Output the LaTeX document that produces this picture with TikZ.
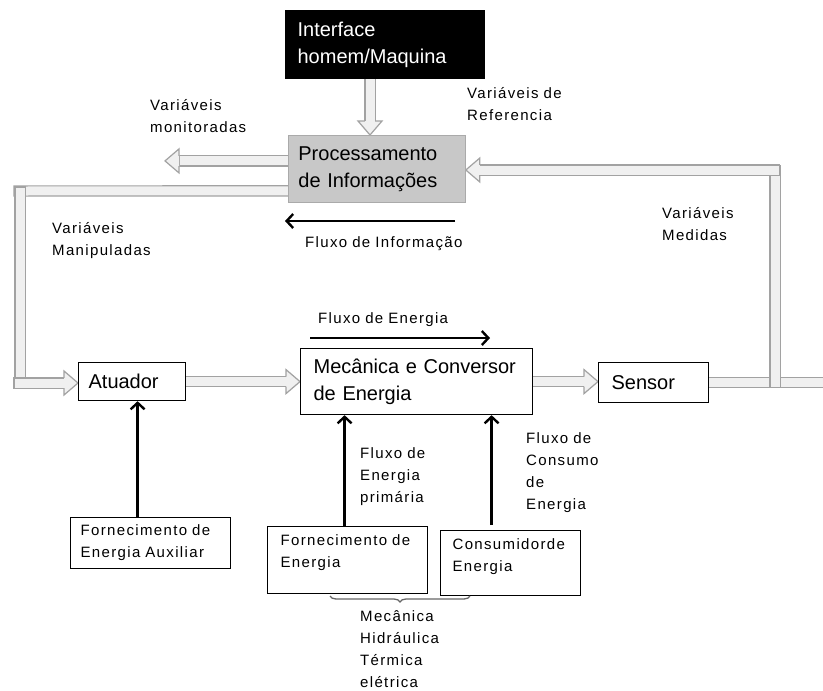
\documentclass[tikz,border=0pt]{standalone}
\usepackage{fontspec}
\setmainfont{Liberation Sans}
\newfontfamily\spacedsans[LetterSpace=9]{Liberation Sans}
\usetikzlibrary{arrows.meta,decorations.pathreplacing}

\newcommand\bigfont{\fontsize{20}{27}\selectfont}
\newcommand\smallfont{\spacedsans\fontsize{15}{22}\selectfont}

\definecolor{pipeedge}{HTML}{A2A2A2}
\definecolor{pipefill}{HTML}{F0F0F0}
\definecolor{procfill}{HTML}{C8C8C8}

\pgfdeclarelayer{paper}
\pgfdeclarelayer{pipes}
\pgfsetlayers{paper,pipes,main}

\tikzset{
  blockbox/.style={draw=black, fill=white, line width=1.2pt, anchor=north west, align=left, inner ysep=0pt},
  bigbox/.style={blockbox, font=\bigfont},
  smallbox/.style={blockbox, font=\smallfont},
  lbl/.style={anchor=base west, inner sep=0pt, align=left, text width=160pt, font=\smallfont},
  flow/.style={line width=2.4pt, -{Straight Barb[length=6.5pt,width=14pt]}},
  pipe/.style={draw=pipeedge, line width=1.2pt, double=pipefill, double distance=9pt,
    line cap=rect, line join=miter},
  pipeend/.style={pipe, shorten >=19pt},
  pipehead/.pic={
    \fill[pipefill] (0,0) -- (-14,-12) -- (-14,12) -- cycle;
    \draw[draw=pipeedge, line width=1.2pt, line join=miter]
      (-14,-5.1) -- (-14,-12) -- (0,0) -- (-14,12) -- (-14,5.1);},
}

\begin{document}
\begin{tikzpicture}[x=1pt, y=-1pt]
\begin{pgfonlayer}{paper}
\fill[white] (0,0) rectangle (823,691);
\end{pgfonlayer}
\useasboundingbox (0,0) rectangle (823,691);

% blocks
\node[bigbox, fill=black, text=white, minimum width=199pt, minimum height=68pt,
      inner xsep=12pt, text width=175pt] (hmi) at (285,10) {Interface\\homem/Maquina};
\node[bigbox, fill=procfill, draw=procfill!85!black, line width=0.8pt, minimum width=177pt,
      minimum height=67pt, inner xsep=10pt, text width=157pt] (proc) at (288,135)
      {Processamento\\de~Informações};
\node[bigbox, minimum width=107pt, minimum height=38pt, inner xsep=10pt, text width=87pt]
      (atuador) at (78,362) {Atuador};
\node[bigbox, minimum width=232pt, minimum height=66pt, inner xsep=13pt, text width=206pt]
      (mec) at (300,348) {Mecânica~e~Conversor\\de~Energia};
\node[bigbox, minimum width=110pt, minimum height=40pt, inner xsep=13pt, text width=84pt]
      (sensor) at (598,362) {Sensor};
\node[smallbox, minimum width=160pt, minimum height=51pt, inner xsep=10pt, text width=140pt]
      (aux) at (70,517) {Fornecimento~de\\Energia~Auxiliar};
\node[smallbox, minimum width=160pt, minimum height=67pt, inner xsep=13pt, text width=134pt,
      text depth=40pt] (forn) at (267,526) {Fornecimento~de\\Energia};
\node[smallbox, minimum width=140pt, minimum height=65pt, inner xsep=12pt, text width=116pt,
      text depth=38pt] (cons) at (440,530) {Consumidorde\\Energia};

% labels
\node[lbl] (lref)  at (467,98)  {Variáveis~de\\Referencia};
\node[lbl] (lmon)  at (150,110) {Variáveis\\monitoradas};
\node[lbl] (lman)  at (52,233)  {Variáveis\\Manipuladas};
\node[lbl] (lmed)  at (662,218) {Variáveis\\Medidas};
\node[lbl] (linfo) at (305,247) {Fluxo~de~Informação};
\node[lbl] (lener) at (318,323) {Fluxo~de~Energia};
\node[lbl] (lprim) at (360,458) {Fluxo~de\\Energia\\primária};
\node[lbl] (lcons) at (526,443) {Fluxo~de\\Consumo\\de\\Energia};
\node[lbl] (ltipo) at (360,621) {Mecânica\\Hidráulica\\Térmica\\elétrica};

% helper points for free ends and bends
\coordinate (refx)    at (370,0);
\coordinate (montip)  at (165,0);
\coordinate (manTop)  at (19,191);
\coordinate (manV1)   at (20,192);
\coordinate (manV2)   at (20,383);
\coordinate (manBot)  at (19,383);
\coordinate (fbV1)    at (775,382);
\coordinate (fbV2)    at (775,171);
\coordinate (fbTop)   at (774,170);
\coordinate (outR)    at (840,0);
\coordinate (fi1)     at (455,221);
\coordinate (fi2)     at (285,221);
\coordinate (fe1)     at (310,338);
\coordinate (fe2)     at (490,338);
\coordinate (procmon) at ([yshift=8pt]proc.west);
\coordinate (procman) at ([yshift=-22pt]proc.west);

% signal pipes, drawn beneath the blocks
\begin{pgfonlayer}{pipes}
\draw[pipeend] (refx |- hmi.south) -- (refx |- proc.north);
\pic[rotate=-90] at (refx |- proc.north) {pipehead};

\draw[pipeend] (procmon) -- (montip |- procmon);
\pic[rotate=180] at (montip |- procmon) {pipehead};

\draw[pipe] (procman) -- (manTop);
\draw[pipe] (manV1) -- (manV2);
\draw[pipeend] (manBot) -- (manBot -| atuador.west);
\pic at (manBot -| atuador.west) {pipehead};

\draw[pipeend] (atuador.east) -- (mec.west);
\pic at (mec.west) {pipehead};

\draw[pipeend] (mec.east) -- (mec.east -| sensor.west);
\pic at (mec.east -| sensor.west) {pipehead};

\draw[pipe] (sensor.east) -- (sensor.east -| outR);
\draw[pipe] (fbV1) -- (fbV2);
\draw[pipeend] (fbTop) -- (fbTop -| proc.east);
\pic[rotate=180] at (fbTop -| proc.east) {pipehead};
\end{pgfonlayer}

% energy and information flows
\draw[flow] (fi1) -- (fi2);
\draw[flow] (fe1) -- (fe2);
\draw[flow] ([xshift=-13pt]aux.north) -- ([xshift=-13pt]aux.north |- atuador.south);
\draw[flow] ([xshift=-3pt]forn.north) -- ([xshift=-3pt]forn.north |- mec.south);
\draw[flow, shorten <=5pt] ([xshift=-19pt]cons.north) -- ([xshift=-19pt]cons.north |- mec.south);

% energy forms grouping
\draw[black!60, line width=1.3pt, decorate, decoration={brace, mirror, amplitude=6pt}]
  (330,596) -- (470,596);
\end{tikzpicture}
\end{document}
